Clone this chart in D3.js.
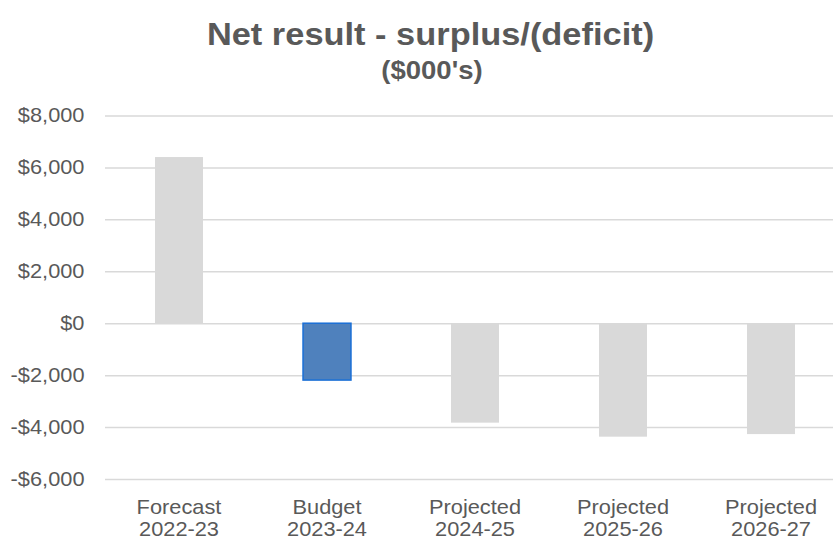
<!DOCTYPE html>
<html>
<head>
<meta charset="utf-8">
<script src="https://cdn.jsdelivr.net/npm/d3@7"></script>
<style>
  html, body { margin: 0; padding: 0; background: #fff; }
  svg { display: block; font-family: "Liberation Sans", Arial, sans-serif; }
</style>
</head>
<body>
<svg id="chart" width="833" height="538"></svg>
<script>
// Net result by year ($000's)
const categories = [
  ["Forecast", "2022-23"],
  ["Budget", "2023-24"],
  ["Projected", "2024-25"],
  ["Projected", "2025-26"],
  ["Projected", "2026-27"]
];
const values = [6400, -2190, -3830, -4370, -4270];
const highlight = [false, true, false, false, false];
const yTicks = [-6000, -4000, -2000, 0, 2000, 4000, 6000, 8000];

const svg = d3.select("#chart");
const textColor = "#595959";
const gridColor = "#d9d9d9";
const stretch = 1.09; // slightly wide lettering

const x = d3.scaleBand()
  .domain(categories.map((d, i) => i))
  .range([105, 845])
  .paddingInner(0.676)
  .paddingOuter(0.338);

const y = d3.scaleLinear()
  .domain([-6000, 8000])
  .range([479, 115.5]);

const fmt = v => (v < 0 ? "-$" : "$") + d3.format(",")(Math.abs(v));

// Gridlines and value labels
const yAxis = d3.axisLeft(y)
  .tickValues(yTicks)
  .tickSize(-740)
  .tickFormat(fmt);

const gy = svg.append("g")
  .attr("transform", "translate(105,0)")
  .call(yAxis);
gy.select(".domain").remove();
gy.selectAll(".tick line").attr("stroke", gridColor).attr("stroke-width", 1.5);
gy.selectAll(".tick text")
  .attr("x", 0)
  .attr("transform", `translate(-20.5,0) scale(${stretch},1)`)
  .attr("fill", textColor)
  .style("font-size", "20px")
  .style("font-family", "Liberation Sans, Arial, sans-serif");

// Bars
svg.append("g").selectAll("rect")
  .data(values)
  .join("rect")
  .attr("x", (d, i) => x(i))
  .attr("width", x.bandwidth())
  .attr("y", d => y(Math.max(0, d)))
  .attr("height", d => Math.abs(y(d) - y(0)))
  .attr("fill", (d, i) => highlight[i] ? "#4f81bd" : "#d9d9d9")
  .attr("stroke", (d, i) => highlight[i] ? "#1a6fd6" : "none")
  .attr("stroke-width", 1.5);

// Category labels
const gx = svg.append("g");
categories.forEach((lines, i) => {
  const cx = x(i) + x.bandwidth() / 2;
  const t = gx.append("text")
    .attr("transform", `translate(${cx},513.5) scale(${stretch},1)`)
    .attr("text-anchor", "middle")
    .attr("fill", textColor)
    .style("font-size", "20px");
  lines.forEach((s, j) => {
    t.append("tspan")
      .attr("x", 0)
      .attr("dy", j === 0 ? 0 : 22.8)
      .text(s);
  });
});

// Title
svg.append("text")
  .attr("transform", "translate(430.5,45) scale(1.075,1)")
  .attr("text-anchor", "middle")
  .attr("fill", textColor)
  .style("font-size", "32px")
  .style("font-weight", "bold")
  .text("Net result - surplus/(deficit)");

svg.append("text")
  .attr("transform", "translate(432,78.5) scale(1.1,1)")
  .attr("text-anchor", "middle")
  .attr("fill", textColor)
  .style("font-size", "25px")
  .style("font-weight", "bold")
  .text("($000's)");
</script>
</body>
</html>
